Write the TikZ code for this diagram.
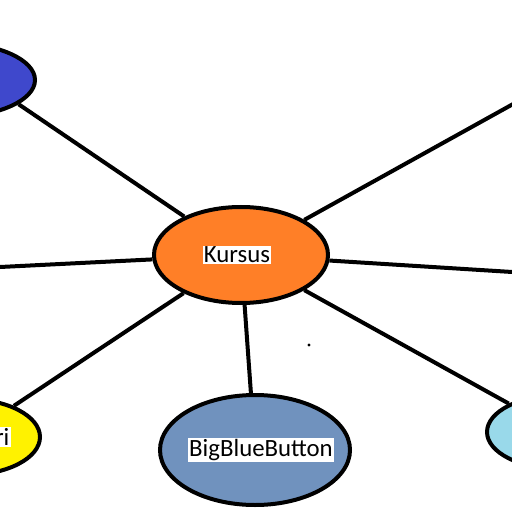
\documentclass[tikz,border=0pt]{standalone}
\usepackage{fontspec}
\setmainfont{Carlito}
\usetikzlibrary{shapes.geometric, backgrounds}

\definecolor{kursusorange}{HTML}{FF7F27}
\definecolor{topblue}{HTML}{3F48CC}
\definecolor{bbbblue}{HTML}{7092BE}
\definecolor{lightturq}{HTML}{99D9EA}

\begin{document}
\begin{tikzpicture}[
    x=0.5pt, y=-0.5pt,
    blob/.style={ellipse, draw=black, line width=2pt, fill=#1, inner sep=0pt},
    txt/.style={fill=white, inner sep=0.6pt, font=\fontsize{12.4}{14}\selectfont},
    link/.style={line width=2pt, draw=black}
]

\useasboundingbox (0,0) rectangle (512,512);
\clip (0,0) rectangle (512,512);

% Centre
\node[blob=kursusorange, minimum width=87pt, minimum height=48pt] (kursus) at (241,255) {};
\node[txt] (kursus_txt) at ([xshift=-2pt]kursus.center) {Kursus};

% Surrounding ellipses (partly outside the frame)
\node[blob=topblue, minimum width=83pt, minimum height=37pt] (topleft) at (-48,80) {};
\node[blob=yellow, minimum width=73pt, minimum height=38pt] (botleft) at (-33,437) {};
\node[txt, anchor=east] (botleft_txt) at (11,437) {ri};
\node[blob=bbbblue, minimum width=95pt, minimum height=55pt] (bbb) at (255,450) {};
\node[txt] (bbb_txt) at ([xshift=3pt]bbb.center) {BigBlueButton};
\node[blob=lightturq, minimum width=73pt, minimum height=37pt] (botright) at (560,432) {};

% Free ends of the lines leaving the frame
\coordinate (left_end) at (-40,269);
\coordinate (right_end) at (560,275);
\coordinate (topright_end) at (560,78);

% Stray dot
\node[circle, fill=black, inner sep=0pt, minimum size=1.6pt] (dot) at (309,345) {};

% Links (drawn behind nodes)
\begin{scope}[on background layer]
    \draw[link] (kursus) -- (topleft.-20);
    \draw[link] (kursus) -- (botleft);
    \draw[link] (kursus) -- (bbb);
    \draw[link] (kursus) -- (botright);
    \draw[link] (kursus) -- (left_end);
    \draw[link] (kursus) -- (right_end);
    \draw[link] (kursus) -- (topright_end);
\end{scope}

\end{tikzpicture}
\end{document}
